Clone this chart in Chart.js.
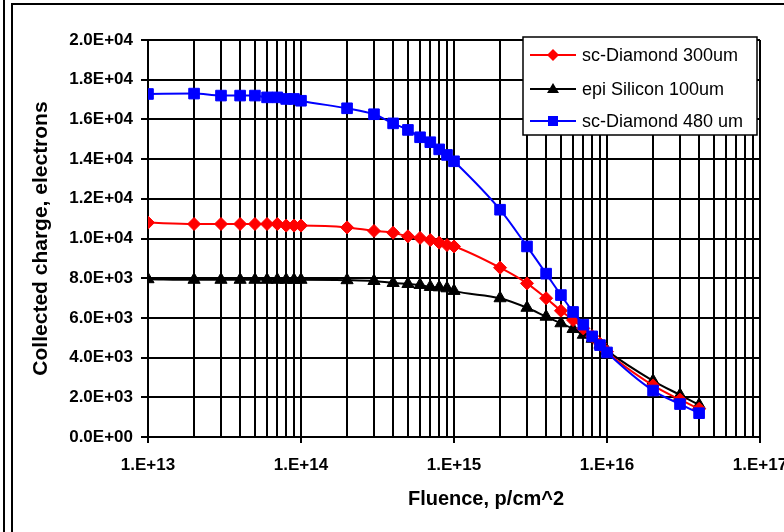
<!DOCTYPE html>
<html>
<head>
<meta charset="utf-8">
<script src="https://cdn.jsdelivr.net/npm/chart.js@4.4.0/dist/chart.umd.min.js"></script>
<style>
  html, body { margin: 0; padding: 0; background: #fff; }
  #wrap { width: 784px; height: 532px; }
</style>
</head>
<body>
<div id="wrap"><canvas id="chargeChart" width="784" height="532"></canvas></div>
<script>
// Fluence points (p/cm^2)
const fluence = [
  1e13, 2e13, 3e13, 4e13, 5e13, 6e13, 7e13, 8e13, 9e13,
  1e14, 2e14, 3e14, 4e14, 5e14, 6e14, 7e14, 8e14, 9e14,
  1e15, 2e15, 3e15, 4e15, 5e15, 6e15, 7e15, 8e15, 9e15,
  1e16, 2e16, 3e16, 4e16
];

// Collected charge, electrons
const diamond300 = [
  10800, 10730, 10730, 10730, 10730, 10730, 10730, 10650, 10650,
  10650, 10560, 10380, 10290, 10110, 10030, 9920, 9790, 9670,
  9600, 8530, 7740, 6990, 6360, 5890, 5470, 5080, 4700,
  4300, 2600, 1880, 1420
];
const silicon100 = [
  7950, 7920, 7920, 7920, 7920, 7920, 7920, 7920, 7920,
  7920, 7900, 7860, 7760, 7710, 7660, 7560, 7540, 7490,
  7360, 6990, 6510, 6060, 5730, 5440, 5150, 4950, 4650,
  4350, 2830, 2120, 1620
];
const diamond480 = [
  17280, 17300, 17200, 17200, 17200, 17110, 17110, 17030, 17030,
  16940, 16560, 16260, 15800, 15470, 15100, 14850, 14490, 14210,
  13890, 11450, 9600, 8230, 7150, 6300, 5660, 5070, 4630,
  4260, 2340, 1660, 1200
];

const seriesNames = ["sc-Diamond 300um", "epi Silicon 100um", "sc-Diamond 480 um"];
const seriesColors = ["#ff0000", "#000000", "#0000ff"];
const seriesMarkers = ["rectRot", "triangle", "rect"];

// Axis ticks
const xDecades = [13, 14, 15, 16, 17];
const xTickLabels = ["1.E+13", "1.E+14", "1.E+15", "1.E+16", "1.E+17"];
const yTickLabels = ["0.0E+00", "2.0E+03", "4.0E+03", "6.0E+03", "8.0E+03", "1.0E+04",
                     "1.2E+04", "1.4E+04", "1.6E+04", "1.8E+04", "2.0E+04"];

const FONT = "'Liberation Sans', Arial, sans-serif";

function toPoints(ys) {
  return fluence.map((x, i) => ({ x: x, y: ys[i] }));
}

function decadeOf(v) {
  const e = Math.round(Math.log10(v));
  return Math.abs(Math.pow(10, e) - v) / v < 1e-9 ? e : null;
}

// page frame, legend box and x title
const decorPlugin = {
  id: "decor",
  beforeDraw(chart) {
    const ctx = chart.ctx;
    ctx.save();
    ctx.fillStyle = "#fff";
    ctx.fillRect(0, 0, chart.width, chart.height);
    ctx.strokeStyle = "#000";
    ctx.lineWidth = 2;
    ctx.beginPath();
    ctx.moveTo(4, 0); ctx.lineTo(4, chart.height);
    ctx.moveTo(12, chart.height); ctx.lineTo(12, 4); ctx.lineTo(chart.width, 4);
    ctx.stroke();
    ctx.restore();
  },
  afterDraw(chart) {
    const ctx = chart.ctx;
    ctx.save();
    // x axis title
    ctx.fillStyle = "#000";
    ctx.font = "bold 20px " + FONT;
    ctx.textAlign = "center";
    ctx.textBaseline = "middle";
    ctx.fillText("Fluence, p/cm^2", 486, 499);

    // legend
    const bx = 523, by = 37, bw = 234, bh = 98;
    ctx.fillStyle = "#fff";
    ctx.fillRect(bx, by, bw, bh);
    ctx.strokeStyle = "#000";
    ctx.lineWidth = 1.5;
    ctx.strokeRect(bx, by, bw, bh);
    const rows = [55, 89, 121];
    seriesNames.forEach((name, i) => {
      const y = rows[i];
      const c = seriesColors[i];
      ctx.strokeStyle = c;
      ctx.fillStyle = c;
      ctx.lineWidth = 2;
      ctx.beginPath();
      ctx.moveTo(530, y); ctx.lineTo(576, y);
      ctx.stroke();
      const mx = 553;
      ctx.beginPath();
      if (seriesMarkers[i] === "rectRot") {
        ctx.moveTo(mx, y - 6); ctx.lineTo(mx + 6, y); ctx.lineTo(mx, y + 6); ctx.lineTo(mx - 6, y);
      } else if (seriesMarkers[i] === "triangle") {
        ctx.moveTo(mx, y - 6); ctx.lineTo(mx + 6, y + 4); ctx.lineTo(mx - 6, y + 4);
      } else {
        ctx.rect(mx - 5, y - 5, 10, 10);
      }
      ctx.closePath();
      ctx.fill();
      ctx.fillStyle = "#000";
      ctx.font = "18px " + FONT;
      ctx.textAlign = "left";
      ctx.textBaseline = "middle";
      ctx.fillText(name, 582, y + 1);
    });
    ctx.restore();
  }
};

const markerRadius = { rectRot: 6.5, triangle: 7, rect: 7.5 };

const datasets = [diamond300, silicon100, diamond480].map((ys, i) => ({
  label: seriesNames[i],
  data: toPoints(ys),
  borderColor: seriesColors[i],
  backgroundColor: seriesColors[i],
  borderWidth: 2,
  pointStyle: seriesMarkers[i],
  pointRadius: markerRadius[seriesMarkers[i]],
  pointBorderWidth: 1,
  cubicInterpolationMode: "monotone",
  order: i === 2 ? 0 : (i === 0 ? 1 : 2)
}));

const chargeCtx = document.getElementById("chargeChart").getContext("2d");
new Chart(chargeCtx, {
  type: "line",
  data: { datasets: datasets },
  plugins: [decorPlugin],
  options: {
    responsive: false,
    animation: false,
    events: [],
    layout: { padding: { left: 14, right: 24, top: 40, bottom: 0 } },
    plugins: {
      legend: { display: false },
      tooltip: { enabled: false },
      title: { display: false }
    },
    scales: {
      x: {
        type: "logarithmic",
        min: Math.pow(10, xDecades[0]),
        max: Math.pow(10, xDecades[xDecades.length - 1]),
        afterBuildTicks(scale) {
          const ticks = [];
          xDecades.forEach((e, k) => {
            const top = k === xDecades.length - 1 ? 1 : 9;
            for (let m = 1; m <= top; m++) ticks.push({ value: m * Math.pow(10, e) });
          });
          scale.ticks = ticks;
        },
        afterFit(scale) {
          scale.height = 95;
          scale.paddingLeft = 0;
          scale.paddingRight = 0;
        },
        grid: {
          color: "#000",
          lineWidth: 2,
          tickLength: 6,
          tickColor(ctx) {
            return ctx.tick && decadeOf(ctx.tick.value) !== null ? "#000" : "rgba(0,0,0,0)";
          }
        },
        border: { color: "#000", width: 2 },
        ticks: {
          autoSkip: false,
          maxRotation: 0,
          padding: 12,
          color: "#000",
          font: { family: FONT, size: 17, weight: "bold" },
          callback(value) {
            const e = decadeOf(value);
            const k = xDecades.indexOf(e);
            return k >= 0 ? xTickLabels[k] : "";
          }
        }
      },
      y: {
        min: 0,
        max: 20000,
        afterFit(scale) { scale.width = 134; },
        grid: { color: "#000", lineWidth: 2, tickLength: 7 },
        border: { color: "#000", width: 2 },
        ticks: {
          stepSize: 2000,
          padding: 8,
          color: "#000",
          font: { family: FONT, size: 17, weight: "bold" },
          callback(value) {
            return yTickLabels[Math.round(value / 2000)];
          }
        },
        title: {
          display: true,
          text: "Collected charge, electrons",
          color: "#000",
          font: { family: FONT, size: 21, weight: "bold" },
          padding: { top: 15, bottom: 0 }
        }
      }
    }
  }
});
</script>
</body>
</html>
